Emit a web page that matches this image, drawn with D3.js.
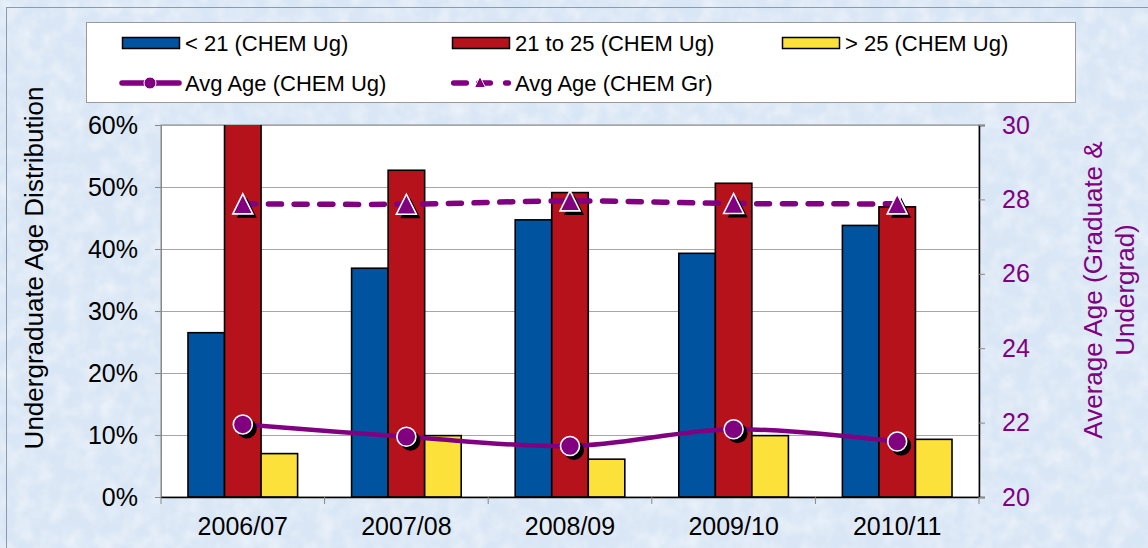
<!DOCTYPE html>
<html>
<head>
<meta charset="utf-8">
<script src="https://cdn.jsdelivr.net/npm/d3@7"></script>
<style>
  html, body { margin: 0; padding: 0; background: #fff; }
  svg { display: block; font-family: "Liberation Sans", Arial, sans-serif; }
</style>
</head>
<body>
<svg id="chart"></svg>
<script>
// chart data
var years = ['2006/07', '2007/08', '2008/09', '2009/10', '2010/11']
var under21 = [0.265, 0.369, 0.447, 0.393, 0.438]
var from21to25 = [0.665, 0.527, 0.491, 0.506, 0.468]
var over25 = [0.070, 0.099, 0.061, 0.099, 0.093]
var avgAgeUg = [21.95, 21.62, 21.37, 21.82, 21.49]
var avgAgeGr = [27.88, 27.87, 27.96, 27.89, 27.88]
var pctTicks = [0, 0.1, 0.2, 0.3, 0.4, 0.5, 0.6]
var ageTicks = [20, 22, 24, 26, 28, 30]

var barSeries = [
    { name: '< 21 (CHEM Ug)', values: under21, color: '#00539F' },
    { name: '21 to 25 (CHEM Ug)', values: from21to25, color: '#B5121B' },
    { name: '> 25 (CHEM Ug)', values: over25, color: '#FCE13A' }
]
var purple = '#800080'

var width = 1148
var height = 548
var pLeft = 161, pRight = 979, pTop = 125, pBottom = 497

var svg = d3.select('#chart')
    .attr('width', width)
    .attr('height', height)

var defs = svg.append('defs')
var noise = defs.append('filter').attr('id', 'noise')
    .attr('x', 0).attr('y', 0).attr('width', '100%').attr('height', '100%')
noise.append('feTurbulence')
    .attr('type', 'fractalNoise')
    .attr('baseFrequency', 0.06)
    .attr('numOctaves', 3)
    .attr('seed', 4)
noise.append('feColorMatrix')
    .attr('type', 'matrix')
    .attr('values', '0 0 0 0 1  0 0 0 0 1  0 0 0 0 1  0 0 0 -1.4 0.9')

defs.append('clipPath').attr('id', 'plotClip')
    .append('rect')
    .attr('x', pLeft - 2).attr('y', pTop)
    .attr('width', pRight - pLeft + 4).attr('height', pBottom - pTop + 2)

// background
svg.append('rect')
    .attr('width', width).attr('height', height)
    .attr('fill', '#d9e6f5')
svg.append('rect')
    .attr('width', width).attr('height', height)
    .attr('filter', 'url(#noise)')
    .attr('opacity', 0.6)
svg.append('rect')
    .attr('x', 6.5).attr('y', 7.5)
    .attr('width', 1160).attr('height', 560)
    .attr('fill', 'none')
    .attr('stroke', '#8c9bab')

// scales
var x0 = d3.scaleBand()
    .domain(years)
    .range([pLeft, pRight])
    .paddingInner(0.33)
    .paddingOuter(0.165)
var xc = d3.scaleBand()
    .domain(years)
    .range([pLeft, pRight])
var x1 = d3.scaleBand()
    .domain(d3.range(barSeries.length))
    .range([0, x0.bandwidth()])
var y = d3.scaleLinear().domain([0, 0.6]).range([pBottom, pTop])
var y2 = d3.scaleLinear().domain([20, 30]).range([pBottom, pTop])

// plot area
svg.append('rect')
    .attr('x', pLeft).attr('y', pTop)
    .attr('width', pRight - pLeft).attr('height', pBottom - pTop)
    .attr('fill', '#fff')
    .attr('stroke', '#888')
    .attr('stroke-width', 1)

svg.append('g')
    .selectAll('line')
    .data(pctTicks.slice(1))
    .enter().append('line')
    .attr('x1', pLeft).attr('x2', pRight)
    .attr('y1', d => Math.round(y(d)) + 0.5)
    .attr('y2', d => Math.round(y(d)) + 0.5)
    .attr('stroke', '#a6a6a6')

// left axis
var leftAxis = svg.append('g')
    .attr('transform', 'translate(' + pLeft + ',0)')
    .call(d3.axisLeft(y).tickValues(pctTicks).tickFormat(d3.format('.0%')).tickSize(6).tickPadding(17))
leftAxis.select('.domain').attr('stroke', '#888')
leftAxis.selectAll('line').attr('stroke', '#888')
leftAxis.selectAll('text')
    .attr('font-size', 25)
    .attr('fill', '#000')
    .attr('font-family', '"Liberation Sans", Arial, sans-serif')

// right axis
var rightAxis = svg.append('g')
    .attr('transform', 'translate(' + pRight + ',0)')
    .call(d3.axisRight(y2).tickValues(ageTicks).tickSize(6).tickPadding(17))
rightAxis.select('.domain').attr('stroke', '#000').attr('stroke-width', 1.5)
rightAxis.selectAll('line').attr('stroke', '#888')
rightAxis.selectAll('text')
    .attr('font-size', 25)
    .attr('fill', purple)
    .attr('font-family', '"Liberation Sans", Arial, sans-serif')

// bars
var plot = svg.append('g').attr('clip-path', 'url(#plotClip)')
var group = plot.selectAll('g.year')
    .data(years)
    .enter().append('g')
    .attr('class', 'year')
    .attr('transform', d => 'translate(' + x0(d) + ',0)')

group.selectAll('rect')
    .data((d, i) => barSeries.map((s, k) => ({ k: k, v: s.values[i], color: s.color })))
    .enter().append('rect')
    .attr('x', d => x1(d.k))
    .attr('width', x1.bandwidth())
    .attr('y', d => y(d.v))
    .attr('height', d => pBottom - y(d.v))
    .attr('fill', d => d.color)
    .attr('stroke', '#000')
    .attr('stroke-width', 1.6)

// bottom axis
var bottomAxis = svg.append('g')
    .attr('transform', 'translate(0,' + pBottom + ')')
    .call(d3.axisBottom(xc).tickSize(0).tickPadding(20))
bottomAxis.select('.domain').remove()
bottomAxis.selectAll('text')
    .attr('font-size', 25)
    .attr('fill', '#000')
    .attr('font-family', '"Liberation Sans", Arial, sans-serif')
svg.append('line')
    .attr('x1', pLeft).attr('x2', pRight)
    .attr('y1', pBottom + 0.5).attr('y2', pBottom + 0.5)
    .attr('stroke', '#000').attr('stroke-width', 1.5)
svg.append('g')
    .selectAll('line')
    .data(years.map(d => xc(d)).concat([pRight]))
    .enter().append('line')
    .attr('x1', d => d).attr('x2', d => d)
    .attr('y1', pBottom).attr('y2', pBottom + 7)
    .attr('stroke', '#888')

// lines
var cx = d => xc(d) + xc.bandwidth() / 2
var ageLine = d3.line()
    .x((d, i) => cx(years[i]))
    .y(d => y2(d))
    .curve(d3.curveCatmullRom.alpha(0.5))

svg.append('path')
    .datum(avgAgeGr)
    .attr('d', ageLine)
    .attr('fill', 'none')
    .attr('stroke', purple)
    .attr('stroke-width', 5.5)
    .attr('stroke-linecap', 'round')
    .attr('stroke-dasharray', '13,12.7')

svg.append('path')
    .datum(avgAgeUg)
    .attr('d', ageLine)
    .attr('fill', 'none')
    .attr('stroke', purple)
    .attr('stroke-width', 4.5)

function triPath(cxp, cyp, s) {
    var h = s / 2
    return 'M' + cxp + ',' + (cyp - h) + 'L' + (cxp + h) + ',' + (cyp + h) + 'L' + (cxp - h) + ',' + (cyp + h) + 'Z'
}

// markers with shadow
svg.append('g').selectAll('path')
    .data(avgAgeGr)
    .enter().append('path')
    .attr('d', (d, i) => triPath(cx(years[i]) + 4, y2(d) + 4, 20))
    .attr('fill', '#000')
svg.append('g').selectAll('path')
    .data(avgAgeGr)
    .enter().append('path')
    .attr('d', (d, i) => triPath(cx(years[i]), y2(d), 20))
    .attr('fill', purple)
    .attr('stroke', '#fff')
    .attr('stroke-width', 1.6)

svg.append('g').selectAll('circle')
    .data(avgAgeUg)
    .enter().append('circle')
    .attr('cx', (d, i) => cx(years[i]) + 4)
    .attr('cy', d => y2(d) + 4)
    .attr('r', 10)
    .attr('fill', '#000')
svg.append('g').selectAll('circle')
    .data(avgAgeUg)
    .enter().append('circle')
    .attr('cx', (d, i) => cx(years[i]))
    .attr('cy', d => y2(d))
    .attr('r', 9.5)
    .attr('fill', purple)
    .attr('stroke', '#fff')
    .attr('stroke-width', 1.6)

// axis titles
svg.append('text')
    .attr('transform', 'translate(43,268) rotate(-90)')
    .attr('text-anchor', 'middle')
    .attr('font-size', 26)
    .attr('fill', '#000')
    .text('Undergraduate Age Distribution')

var rt = svg.append('text')
    .attr('transform', 'translate(1102,290) rotate(-90)')
    .attr('text-anchor', 'middle')
    .attr('font-size', 26)
    .attr('fill', purple)
rt.append('tspan').attr('x', 0).attr('dy', 0).text('Average Age (Graduate &')
rt.append('tspan').attr('x', 0).attr('dy', 32).text('Undergrad)')

// legend
var legend = svg.append('g')
legend.append('rect')
    .attr('x', 86.5).attr('y', 22.5)
    .attr('width', 989).attr('height', 80)
    .attr('fill', '#fff')
    .attr('stroke', '#999')

var legendCols = [122, 452, 782]
barSeries.forEach(function(s, i) {
    var lx = legendCols[i]
    legend.append('rect')
        .attr('x', lx + 0.5).attr('y', 37.5)
        .attr('width', 57).attr('height', 11)
        .attr('fill', s.color)
        .attr('stroke', '#000')
        .attr('stroke-width', 1.5)
    legend.append('text')
        .attr('x', lx + 63).attr('y', 51)
        .attr('font-size', 22)
        .text(s.name)
})

var lineItems = [
    { name: 'Avg Age (CHEM Ug)', dashed: false },
    { name: 'Avg Age (CHEM Gr)', dashed: true }
]
lineItems.forEach(function(s, i) {
    var lx = legendCols[i]
    var ly = 83
    if (s.dashed) {
        [[-1, 17], [24, 41], [51, 59]].forEach(function(seg) {
            legend.append('line')
                .attr('x1', lx + seg[0] + 2.7).attr('x2', lx + seg[1] - 2.7)
                .attr('y1', ly).attr('y2', ly)
                .attr('stroke', purple).attr('stroke-width', 5.5).attr('stroke-linecap', 'round')
        })
        legend.append('path')
            .attr('d', triPath(lx + 28, ly - 1, 11))
            .attr('fill', purple)
            .attr('stroke', '#fff')
            .attr('stroke-width', 1)
    } else {
        legend.append('line')
            .attr('x1', lx).attr('x2', lx + 57)
            .attr('y1', ly).attr('y2', ly)
            .attr('stroke', purple).attr('stroke-width', 5.5).attr('stroke-linecap', 'round')
        legend.append('circle')
            .attr('cx', lx + 28).attr('cy', ly).attr('r', 6)
            .attr('fill', purple)
            .attr('stroke', '#fff')
            .attr('stroke-width', 1)
    }
    legend.append('text')
        .attr('x', lx + 63).attr('y', ly + 8)
        .attr('font-size', 22)
        .text(s.name)
})
</script>
</body>
</html>
